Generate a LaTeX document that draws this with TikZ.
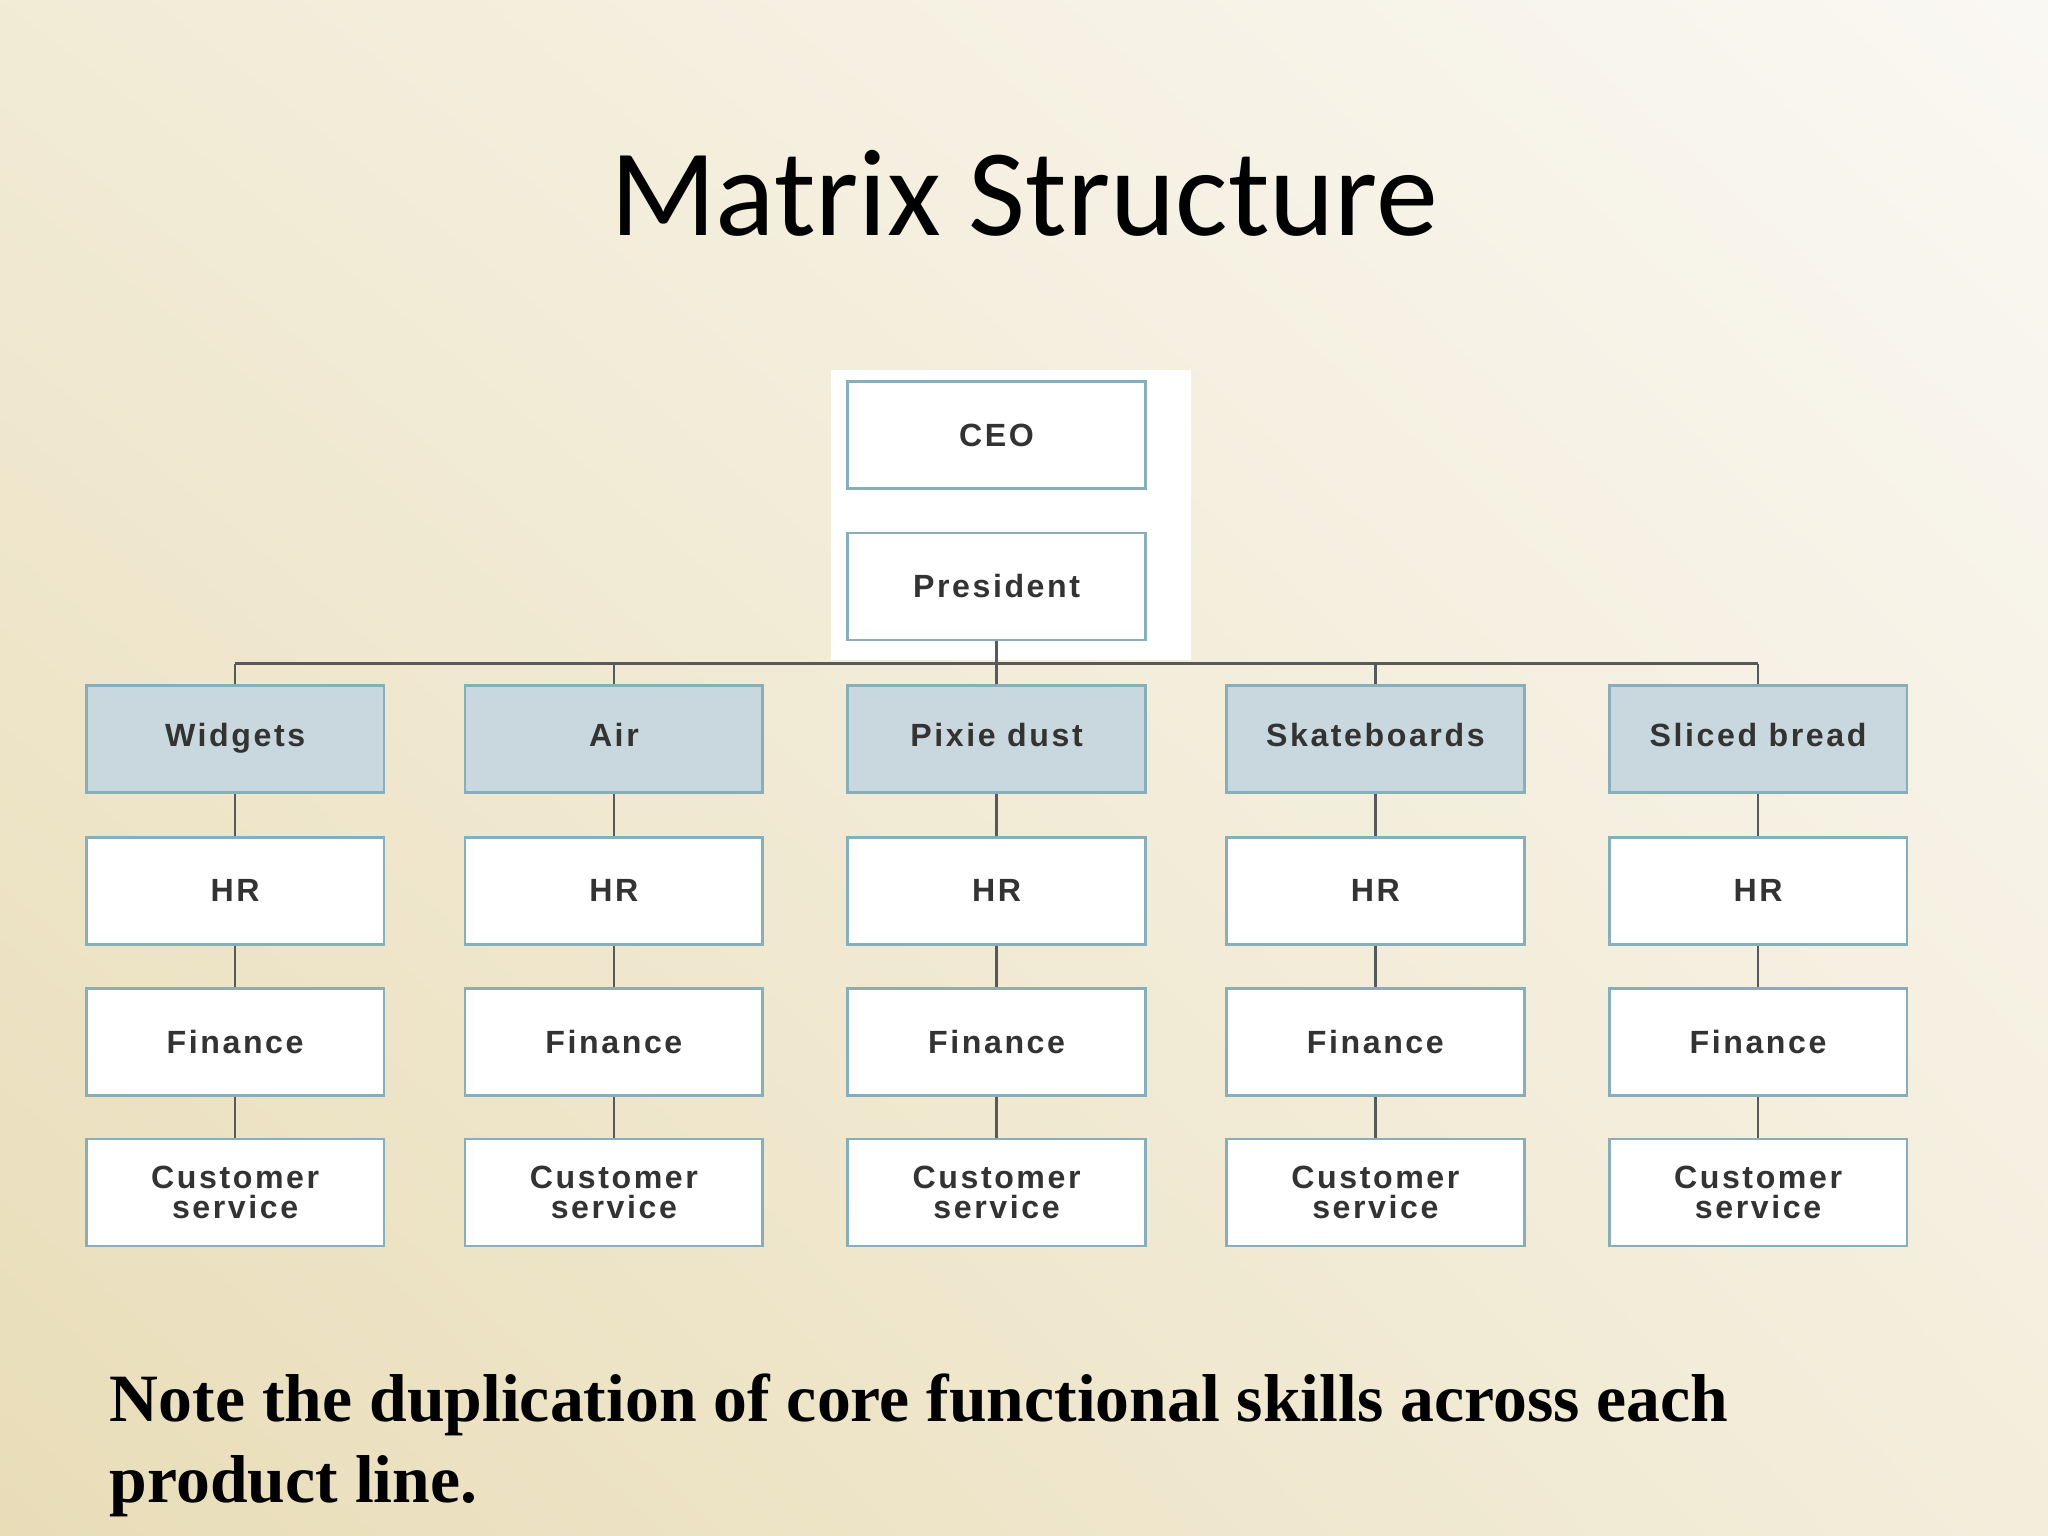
\documentclass[tikz,border=0pt]{standalone}
\usepackage{fontspec}
\usetikzlibrary{shadings}
\setmainfont{Liberation Serif}
\newfontfamily\titlefont{Carlito}
\newfontfamily\boxfont{Liberation Sans}[LetterSpace=8]
\begin{document}
\begin{tikzpicture}[x=0.02cm,y=-0.02cm,
  box/.style={draw=boxline,line width=1.2pt,fill=white,minimum width=4.56cm,minimum height=1.64cm,
    font=\boxfont\bfseries\fontsize{14}{15}\selectfont,text=black!80,align=center,inner sep=0pt},
  prod/.style={box,fill=prodfill},
  conn/.style={draw=gray!70!black,line width=1.2pt}]
\definecolor{boxline}{HTML}{86AEBB}
\definecolor{prodfill}{HTML}{C8D8DE}
\definecolor{bgA}{HTML}{E9DDB8}
\definecolor{bgB}{HTML}{FAF8F3}
\useasboundingbox (0,0) rectangle (1568,1176);
\shade[lower left=bgA,upper right=bgB,lower right=bgB!60!bgA,upper left=bgB!50!bgA] (0,0) rectangle (1568,1176);
\node[font=\titlefont\fontsize{54}{58}\selectfont] (title) at (784,148) {Matrix Structure};
\fill[white] (636,283) rectangle (912,505);
\node[box] (ceo) at (763,333) {CEO};
\node[box] (pres) at (763,449) {President};
\coordinate (bar) at (763,508);
\foreach \n/\x/\t in {w/180/Widgets,a/470/Air,p/763/Pixie dust,s/1053/Skateboards,b/1346/Sliced bread}{
  \node[prod] (\n0) at (\x,566) {\strut\t};
  \node[box] (\n1) at (\x,682) {HR};
  \node[box] (\n2) at (\x,798) {Finance};
  \node[box] (\n3) at (\x,913) {Customer\\[-2pt]service};
  \draw[conn] (\n0.north) -- (\n0.north |- bar);
  \draw[conn] (\n0) -- (\n1);
  \draw[conn] (\n1) -- (\n2);
  \draw[conn] (\n2) -- (\n3);
}
\draw[conn] (pres) -- (bar);
\draw[conn] (w0.north |- bar) -- (b0.north |- bar);
\node[anchor=north west,align=left,font=\bfseries\fontsize{29.5}{35}\selectfont] (note) at (78,1046)
  {Note the duplication of core functional skills across each\\product line.};
\end{tikzpicture}
\end{document}
